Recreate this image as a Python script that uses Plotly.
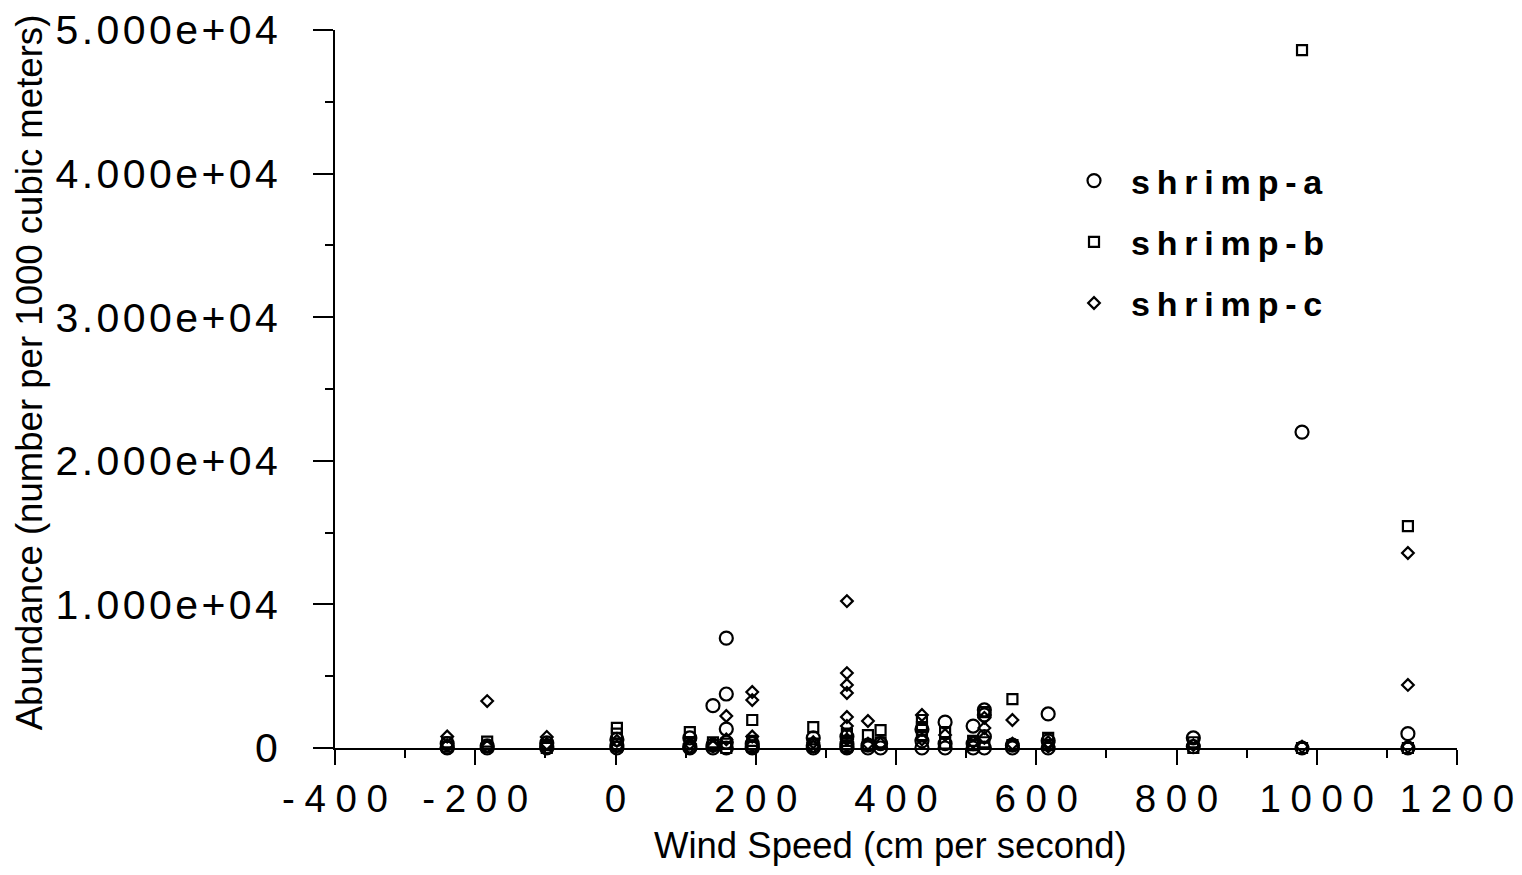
import plotly.graph_objects as go

# ---- data ----
a_x = [-240, -240, -240, -183, -183, -98, -98, -98, 2, 2, 2, 106, 106, 106,
       139, 139, 139, 158, 158, 158, 158, 158, 195, 195, 195, 282, 282, 282,
       330, 330, 330, 330, 360, 360, 378, 378, 437, 437, 437, 470, 470, 470,
       510, 510, 510, 526, 526, 526, 526, 566, 566, 617, 617, 617, 824, 824,
       979, 979, 1130, 1130]
a_y = [300, 50, 0, 150, 0, 350, 100, 0, 600, 200, 0, 700, 100, 0,
       2950, 200, 0, 7650, 3760, 1320, 400, 0, 300, 100, 0, 700, 150, 0,
       800, 300, 100, 0, 200, 0, 300, 0, 1300, 500, 0, 1800, 300, 0,
       1530, 300, 0, 2650, 2300, 800, 0, 200, 0, 2370, 500, 0, 700, 100,
       22000, 0, 1000, 0]

b_x = [-240, -240, -183, -183, -98, -98, 2, 2, 2, 106, 106, 139, 139,
       158, 158, 195, 195, 195, 282, 282, 330, 330, 330, 360, 360, 378, 378,
       437, 437, 437, 470, 470, 510, 510, 526, 526, 566, 566, 617, 617,
       824, 824, 979, 979, 1130, 1130]
b_y = [400, 100, 450, 100, 200, 0, 1400, 1000, 100, 1100, 300, 400, 200,
       300, 0, 1950, 500, 100, 1460, 300, 1000, 500, 100, 900, 200, 1250, 400,
       1950, 1460, 900, 1110, 300, 500, 200, 2500, 400, 3410, 200, 700, 200,
       400, 0, 48600, 0, 15450, 0]

c_x = [-240, -240, -183, -183, -98, -98, 2, 2, 106, 106, 139, 158, 158,
       195, 195, 195, 282, 282, 330, 330, 330, 330, 330, 330, 330, 360, 360,
       378, 437, 437, 470, 510, 526, 526, 526, 566, 566, 617, 617, 824, 979,
       1130, 1130, 1130]
c_y = [800, 200, 3270, 100, 770, 300, 500, 100, 300, 50, 100, 2230, 600,
       3900, 3340, 800, 400, 100, 10230, 5220, 4390, 3830, 2160, 1530, 600, 1880, 300,
       300, 2300, 600, 900, 400, 2100, 1390, 700, 1950, 300, 400, 100, 200, 100,
       13580, 4390, 100]

series_names = ["shrimp-a", "shrimp-b", "shrimp-c"]

x_tick_vals = [-400, -200, 0, 200, 400, 600, 800, 1000, 1200]
x_tick_text = ["-400", "-200", "0", "200", "400", "600", "800", "1000", "1200"]
y_tick_vals = [0, 10000, 20000, 30000, 40000, 50000]
y_tick_text = ["0", "1.000e+04", "2.000e+04", "3.000e+04", "4.000e+04", "5.000e+04"]

x_title = "Wind Speed (cm per second)"
y_title = "Abundance (number per 1000 cubic meters)"

FONT = "Liberation Sans, Arial, Helvetica, sans-serif"


def spaced(s, sp):
    return sp.join(list(s))


fig = go.Figure()
styles = [("circle-open", 13), ("square-open", 10), ("diamond-open", 9)]
for name, xs, ys, (sym, sz) in zip(series_names, [a_x, b_x, c_x], [a_y, b_y, c_y], styles):
    fig.add_trace(go.Scatter(
        x=xs, y=ys, mode="markers", name=spaced(name, "\u2009"),
        legendgroup=name,
        marker=dict(symbol=sym, size=sz, color="black", line=dict(width=2.2, color="black")),
        cliponaxis=False,
    ))

# page body has an 8px margin: figure is sized/placed so the plot area
# lands at x 335..1457, y 30..748 of the window
fig.update_layout(
    width=1506, height=859,
    margin=dict(l=327, r=57, t=22, b=119, autoexpand=False),
    paper_bgcolor="white", plot_bgcolor="white",
    font=dict(family=FONT, color="black"),
    showlegend=True,
    legend=dict(
        x=0.6435, y=0.8301, xanchor="left", yanchor="top",
        font=dict(family=FONT, size=34, color="black", weight="bold"),
        tracegroupgap=14, itemwidth=64, bgcolor="rgba(0,0,0,0)",
    ),
    xaxis=dict(
        range=[-400, 1200], showgrid=False, zeroline=False, automargin=False,
        showline=True, linecolor="black", linewidth=2,
        ticks="outside", ticklen=15, tickwidth=2, tickcolor="black",
        tickvals=x_tick_vals, ticktext=[spaced(t, "\u2005") for t in x_tick_text],
        tickfont=dict(family=FONT, size=38.5, color="black"),
        ticklabelstandoff=1, ticklabeloverflow="allow",
        minor=dict(tickvals=[v + 100 for v in x_tick_vals[:-1]], ticks="outside",
                   ticklen=8, tickwidth=2, tickcolor="black", showgrid=False),
    ),
    yaxis=dict(
        range=[0, 50000], showgrid=False, zeroline=False, automargin=False,
        showline=True, linecolor="black", linewidth=2,
        ticks="outside", ticklen=20, tickwidth=2, tickcolor="black",
        tickvals=y_tick_vals, ticktext=[spaced(t, "\u200a") for t in y_tick_text],
        tickfont=dict(family=FONT, size=41, color="black"),
        ticklabelstandoff=27, ticklabeloverflow="allow",
        minor=dict(tickvals=[v + 5000 for v in y_tick_vals[:-1]], ticks="outside",
                   ticklen=8, tickwidth=2, tickcolor="black", showgrid=False),
    ),
    annotations=[
        dict(text=x_title, xref="paper", yref="paper", x=0.4947, y=-0.1351,
             xanchor="center", yanchor="middle", showarrow=False,
             font=dict(family=FONT, size=36.5, color="black")),
        dict(text=y_title, xref="paper", yref="paper", x=-0.2715, y=0.5237,
             xanchor="center", yanchor="middle", textangle=-90, showarrow=False,
             font=dict(family=FONT, size=36.6, color="black")),
    ],
)

fig.write_html("out.html")
